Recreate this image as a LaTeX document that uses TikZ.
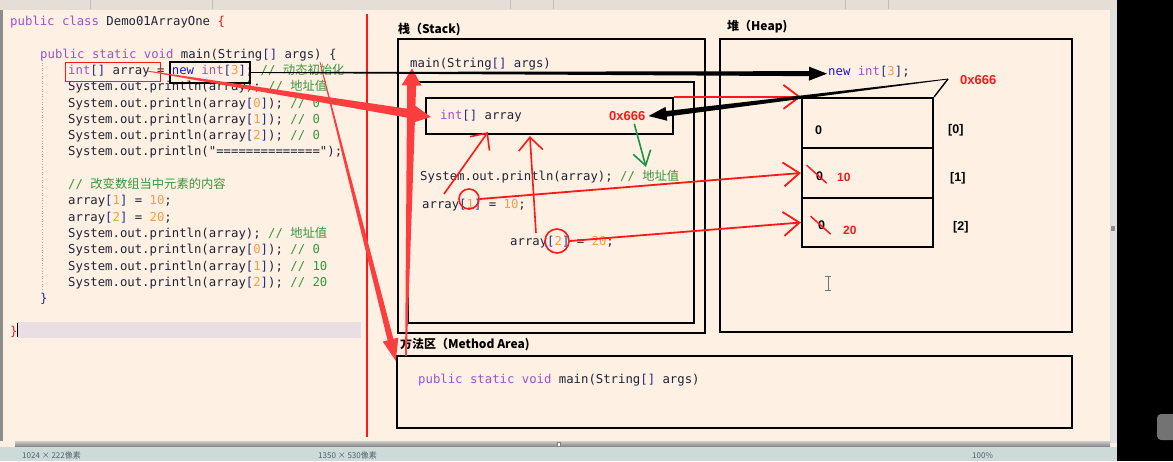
\documentclass[tikz,border=0pt]{standalone}
\usepackage{fontspec}
\setmainfont{Liberation Sans}
\newfontfamily\codefont{DejaVu Sans Mono}
\newfontfamily\cjk{Noto Sans CJK SC}
\usetikzlibrary{arrows.meta,calc,fit}

\definecolor{paper}{RGB}{254,240,226}
\definecolor{topbar}{RGB}{228,222,214}
\definecolor{codeink}{RGB}{32,36,56}
\definecolor{kwpurple}{RGB}{156,82,204}
\definecolor{newblue}{RGB}{24,24,214}
\definecolor{brblue}{RGB}{30,48,140}
\definecolor{numorange}{RGB}{240,158,80}
\definecolor{cmgreen}{RGB}{58,150,62}
\definecolor{redpen}{RGB}{255,24,24}
\definecolor{thickred}{RGB}{252,62,62}
\definecolor{greenpen}{RGB}{22,150,64}
\definecolor{curline}{RGB}{232,222,228}
\definecolor{statusbar}{RGB}{204,218,218}
\definecolor{statusink}{RGB}{80,96,104}

% syntax colours of the editor
\newcommand{\kw}[1]{\textcolor{kwpurple}{#1}}
\newcommand{\kn}[1]{\textcolor{newblue}{#1}}
\newcommand{\bk}[1]{\textcolor{brblue}{#1}}
\newcommand{\nm}[1]{\textcolor{numorange}{#1}}
\newcommand{\cmt}[1]{\textcolor{cmgreen}{#1}}

% hand drawn arrow: colour, from, tip, half width at start, half width at head, head length, head half width
\newcommand{\taperarrow}[7]{%
  \coordinate (tpbase) at ($(#3)!#6!(#2)$);
  \fill[#1] ($(#2)!#4!90:(#3)$) -- ($(tpbase)!#5!-90:(#2)$)
    -- ($(tpbase)!#7!-90:(#2)$) -- (#3) -- ($(tpbase)!#7!90:(#2)$)
    -- ($(tpbase)!#5!90:(#2)$) -- ($(#2)!#4!-90:(#3)$) -- cycle;}

\tikzset{
  codeline/.style={anchor=base west, text=codeink, font={\codefont\fontsize{12.3}{14}\selectfont}},
  areabox/.style={draw=black, line width=2.2pt},
  areatitle/.style={anchor=base west, font={\cjk\bfseries\fontsize{12}{14}\selectfont}},
  cellval/.style={anchor=base west, font={\bfseries\fontsize{12.5}{14}\selectfont}},
  penarrow/.style={draw=redpen, line width=1.8pt, -{Straight Barb[length=16pt,width=24pt]}},
  statustext/.style={anchor=base west, text=statusink, font={\cjk\fontsize{8}{9}\selectfont}},
}

\begin{document}
\begin{tikzpicture}[x=1pt, y=-1pt, every node/.style={inner sep=0pt}]
  \useasboundingbox (0,0) rectangle (1173,461);

  % window
  \fill[paper] (0,0) rectangle (1173,461);
  \fill[topbar] (0,0) rectangle (1117,10);
  \foreach \x in {90,212,510,553,845,888}
    \draw[black!25] (\x,0) -- (\x,9);
  \fill[black!45] (0,10) rectangle (3,441);
  \fill[black!12] (1110,10) rectangle (1117,443);
  \fill[black!45] (1111,226) rectangle (1115,231);
  \fill[black] (1117,0) rectangle (1173,461);
  \fill[black!55, rounded corners=4pt] (1157,414) rectangle (1185,440);
  \shade[top color=black!20, bottom color=black!50] (15,441) rectangle (1110,447);
  \draw[black!50, fill=white] (557,442) rectangle (560,446);
  \fill[statusbar] (0,447) rectangle (1117,461);
  \node[statustext] (st1) at (22,458) {1024 × 222像素};
  \node[statustext] (st2) at (318,458) {1350 × 530像素};
  \node[statustext] (st3) at (972,458) {100\%};

  % editor
  \fill[curline] (17,322) rectangle (361,338);
  \draw[black!35, dotted, line width=0.6pt] (42,60) -- (42,290);
  \node[codeline] (lclass) at (10,25.5) {\kw{public class} Demo01ArrayOne \textcolor{redpen}{\{}};
  \node[codeline] (lmain) at (40,58.1) {\kw{public static void} main(String\bk{[]} args) \{};
  \node[codeline] (ldecl) at (68,74.4) {\kw{int}\bk{[]} array = \kn{new} \kw{int}\bk{[}\nm{3}\bk{]}; \cmt{// {\cjk 动态初始化}}};
  \node[codeline] (lp1) at (68,90.7) {System.out.println(array); \cmt{// {\cjk 地址值}}};
  \node[codeline] (lp2) at (68,107) {System.out.println(array\bk{[}\nm{0}\bk{]}); \cmt{// 0}};
  \node[codeline] (lp3) at (68,123.3) {System.out.println(array\bk{[}\nm{1}\bk{]}); \cmt{// 0}};
  \node[codeline] (lp4) at (68,139.6) {System.out.println(array\bk{[}\nm{2}\bk{]}); \cmt{// 0}};
  \node[codeline] (lp5) at (68,155.9) {System.out.println("==============");};
  \node[codeline] (lnote) at (68,188.5) {\cmt{// {\cjk 改变数组当中元素的内容}}};
  \node[codeline] (lset1) at (68,204.8) {array\bk{[}\nm{1}\bk{]} = \nm{10};};
  \node[codeline] (lset2) at (68,221.1) {array\bk{[}\nm{2}\bk{]} = \nm{20};};
  \node[codeline] (lp6) at (68,237.4) {System.out.println(array); \cmt{// {\cjk 地址值}}};
  \node[codeline] (lp7) at (68,253.7) {System.out.println(array\bk{[}\nm{0}\bk{]}); \cmt{// 0}};
  \node[codeline] (lp8) at (68,270) {System.out.println(array\bk{[}\nm{1}\bk{]}); \cmt{// 10}};
  \node[codeline] (lp9) at (68,286.3) {System.out.println(array\bk{[}\nm{2}\bk{]}); \cmt{// 20}};
  \node[codeline] (lend1) at (40,302.6) {\bk{\}}};
  \node[codeline] (lend2) at (10,335.2) {\textcolor{redpen}{\}}};
  \draw[black, line width=0.6pt] (17,323) -- (17,337);
  \node[draw=redpen, line width=0.9pt, fit={(65,62) (160,81)}] (codevar) {};
  \node[draw=black, line width=1.2pt, fit={(170,62) (250,83)}] (codenew) {};

  % divider
  \draw[redpen, line width=1.8pt] (367,14) -- (367,437);

  % stack
  \node[areatitle] (stacktitle) at (398,33.5) {栈（Stack)};
  \node[areabox, fit={(398,39) (705,333)}] (stackbox) {};
  \node[codeline] (stackmain) at (410,67.5) {main(String\bk{[]} args)};
  \node[areabox, fit={(408,82) (694,323)}] (framebox) {};
  \node[areabox, fit={(426,98) (673,134)}] (stackvar) {};
  \node[codeline] (varname) at (440,119.5) {\kw{int}\bk{[]} array};
  \node[cellval, text=redpen, font={\bfseries\fontsize{13}{14}\selectfont}] (stackaddr) at (609,120.5) {0x666};
  \node[codeline] (showarr) at (420,180.5) {System.out.println(array); \cmt{// {\cjk 地址值}}};
  \node[codeline] (assign1) at (422,208.5) {array\bk{[}\nm{1}\bk{]} = \nm{10};};
  \node[codeline] (assign2) at (510,245.5) {array\bk{[}\nm{2}\bk{]} = \nm{20};};

  % heap
  \node[areatitle] (heaptitle) at (727,30.5) {堆（Heap)};
  \node[areabox, fit={(720,39) (1072,332)}] (heapbox) {};
  \node[codeline] (heapnew) at (828,75.5) {\kn{new} \kw{int}\bk{[}\nm{3}\bk{]};};
  \node[cellval, text=redpen, font={\bfseries\fontsize{13}{14}\selectfont}] (heapaddr) at (960,84) {0x666};
  \node[areabox, fit={(802,98) (933,148)}] (cell0) {};
  \node[areabox, fit={(802,148) (933,198)}] (cell1) {};
  \node[areabox, fit={(802,198) (933,247)}] (cell2) {};
  \node[cellval] (zero0) at (815,134.5) {0};
  \node[cellval] (zero1) at (816,180.5) {0};
  \node[cellval] (zero2) at (818,229.5) {0};
  \node[cellval, text=redpen, font={\bfseries\fontsize{12}{14}\selectfont}] (ten) at (837,181) {10};
  \node[cellval, text=redpen, font={\bfseries\fontsize{12}{14}\selectfont}] (twenty) at (843,234.5) {20};
  \node[cellval] (idx0) at (948,133.5) {[0]};
  \node[cellval] (idx1) at (950,181.5) {[1]};
  \node[cellval] (idx2) at (953,230.5) {[2]};
  \draw[redpen, line width=1.5pt] ($(zero1.center)+(-13,-11)$) -- ($(zero1.center)+(7,7)$);
  \draw[redpen, line width=1.5pt] ($(zero2.center)+(-11,-9)$) -- ($(zero2.center)+(9,9)$);
  \draw[black!55, line width=0.8pt] (828,276) -- (828,290) (825,276) -- (831,276) (825,290) -- (831,290);

  % method area
  \node[areatitle] (methodtitle) at (400,348.5) {方法区（Method Area)};
  \node[areabox, fit={(397,356) (1072,428)}] (methodbox) {};
  \node[codeline] (methodsig) at (418,383) {\kw{public static void} main(String\bk{[]} args)};

  % pen marks: thin red
  \node[circle, draw=redpen, line width=1.6pt, minimum size=20pt] (circ1) at (469,199) {};
  \node[circle, draw=redpen, line width=1.6pt, minimum size=24pt] (circ2) at (557,241) {};
  \draw[penarrow] (stackvar.north east) -- (cell0.north west);
  \draw[penarrow] (circ1.east) -- (cell1.west);
  \draw[penarrow] (circ2.east) -- (cell2.west);
  \coordinate (set1foot) at ($(assign1.north west)+(22,-5)$);
  \coordinate (set1tip) at ($(stackvar.south west)+(63,-3)$);
  \coordinate (set2foot) at ($(assign2.north west)+(26,-3)$);
  \coordinate (set2tip) at ($(stackvar.south west)+(105,1)$);
  \draw[draw=redpen, line width=1.6pt, -{Straight Barb[length=13pt,width=24pt]}] (set1foot) -- (set1tip);
  \draw[draw=redpen, line width=1.6pt, -{Straight Barb[length=13pt,width=24pt]}] (set2foot) -- (set2tip);

  % pen marks: thick red
  \coordinate (declend) at (147,71);
  \coordinate (vartip) at ($(stackvar.west)+(6,1)$);
  \coordinate (methodfoot) at ($(methodbox.north west)+(10,1)$);
  \coordinate (maintip) at ($(stackmain.base west)+(2,1)$);
  \coordinate (sigstart) at (320,62);
  \coordinate (methodtip) at ($(methodbox.north west)+(0,6)$);
  \taperarrow{thickred}{declend}{vartip}{0.4pt}{4.5pt}{20pt}{10pt}
  \taperarrow{thickred}{methodfoot}{maintip}{0.8pt}{4.5pt}{17pt}{10pt}
  \taperarrow{thickred}{sigstart}{methodtip}{0.4pt}{3pt}{22pt}{8pt}

  % pen marks: black
  \coordinate (newtip) at ($(heapnew.west)+(-1,2)$);
  \coordinate (hook) at ($(heapaddr.base west)+(-12,-5)$);
  \coordinate (addrtip) at ($(stackaddr.east)+(3,0)$);
  \draw[black, line width=1.4pt] (hook) -- (cell0.north east);
  \taperarrow{black}{codenew.east}{newtip}{0.4pt}{2.5pt}{18pt}{7pt}
  \taperarrow{black}{hook}{addrtip}{0.4pt}{2.8pt}{18pt}{7pt}

  % pen marks: green
  \coordinate (addrfoot) at ($(stackaddr.south)+(7,3)$);
  \coordinate (showtip) at ($(showarr.north west)+(226,-3)$);
  \draw[draw=greenpen, line width=1.6pt, -{Straight Barb[length=14pt,width=18pt]}] (addrfoot) -- (showtip);
\end{tikzpicture}
\end{document}
